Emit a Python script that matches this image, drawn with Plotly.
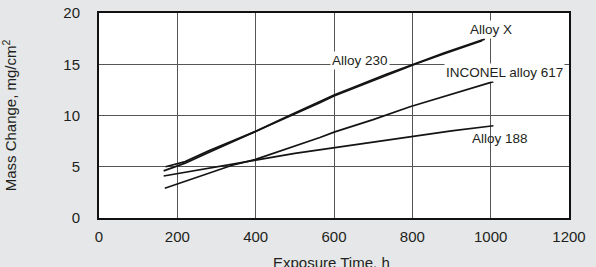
import plotly.graph_objects as go

# Data
alloy_x_t = [165, 220, 280, 330, 400, 483, 564, 600, 650, 735, 810, 880, 978]
alloy_x_m = [4.6, 5.35, 6.4, 7.25, 8.4, 9.85, 11.25, 11.9, 12.65, 13.9, 15.05, 16.0, 17.3]

alloy_230_t = [170, 220, 280, 330, 400, 483, 564, 600, 650, 735, 810, 880, 985]
alloy_230_m = [5.0, 5.5, 6.55, 7.35, 8.45, 9.95, 11.35, 12.0, 12.75, 14.05, 15.1, 16.1, 17.45]

in617_t = [168, 340, 398, 500, 564, 602, 700, 794, 900, 1007]
in617_m = [2.9, 5.15, 5.7, 7.0, 7.85, 8.4, 9.6, 10.85, 12.1, 13.3]

alloy_188_t = [165, 340, 400, 500, 600, 700, 800, 900, 1007]
alloy_188_m = [4.1, 5.2, 5.65, 6.3, 6.85, 7.45, 8.0, 8.5, 9.0]

x_ticks = [0, 200, 400, 600, 800, 1000, 1200]
y_ticks = [0, 5, 10, 15, 20]

labels = ["Alloy X", "Alloy 230", "INCONEL alloy 617", "Alloy 188"]
label_x = [1000, 666, 1036, 1024]
label_y = [18.4, 15.4, 14.2, 7.8]
label_bg = ["white", "white", "white", "rgba(0,0,0,0)"]

x_title = "Exposure Time, h"
y_title = "Mass Change, mg/cm<sup>2</sup>"

FONT = "Liberation Sans, Arial, Helvetica, sans-serif"
TXT = "#231f20"

fig = go.Figure()
for t, m in [(alloy_x_t, alloy_x_m), (alloy_230_t, alloy_230_m),
             (in617_t, in617_m), (alloy_188_t, alloy_188_m)]:
    fig.add_trace(go.Scatter(x=t, y=m, mode="lines",
                             line=dict(color="#141414", width=1.7),
                             showlegend=False, hoverinfo="skip"))

for txt, lx, ly, bg in zip(labels, label_x, label_y, label_bg):
    fig.add_annotation(x=lx, y=ly, text=txt, showarrow=False,
                       font=dict(family=FONT, size=13.5, color=TXT),
                       bgcolor=bg, borderpad=1, xanchor="center", yanchor="middle")

# x-axis title placed below the tick labels (partly clipped like the reference)
fig.add_annotation(x=0.494, y=-0.215, xref="paper", yref="paper",
                   text=x_title, showarrow=False,
                   font=dict(family=FONT, size=15, color=TXT),
                   xanchor="center", yanchor="middle")

fig.update_layout(
    width=596, height=267,
    margin=dict(l=99, r=27, t=13, b=49),
    paper_bgcolor="#e6e7e8",
    plot_bgcolor="white",
    font=dict(family=FONT, size=15, color=TXT),
    xaxis=dict(range=[0, 1200], tickvals=x_ticks, showgrid=True,
               gridcolor="#555555", gridwidth=1, zeroline=False,
               showline=True, linecolor="#111111", linewidth=2, mirror=True,
               ticks="", ticklabelstandoff=4, automargin=False,
               tickfont=dict(size=15)),
    yaxis=dict(range=[0, 20], tickvals=y_ticks, showgrid=True,
               gridcolor="#555555", gridwidth=1, zeroline=False,
               showline=True, linecolor="#111111", linewidth=2, mirror=True,
               ticks="", ticklabelstandoff=14, automargin=False,
               tickfont=dict(size=15),
               title=dict(text=y_title, standoff=44, font=dict(size=15))),
)

fig.write_html("out.html")
